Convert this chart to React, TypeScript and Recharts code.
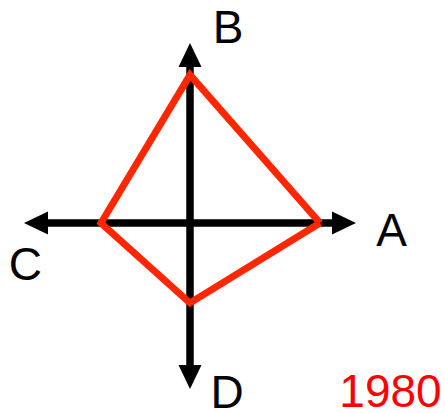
import React from 'react';
import { ComposedChart, Line, XAxis, YAxis, ReferenceLine, ReferenceDot } from 'recharts';

// radar-like values (distance from centre along each axis)
const axesNames = ['A', 'B', 'C', 'D'];
const values1980 = [130, 148, 89, 80];
const yearLabel = '1980';

// direction of each axis: A right, B up, C left, D down
const dirs: Record<string, [number, number]> = { A: [1, 0], B: [0, 1], C: [-1, 0], D: [0, -1] };

const polygon = [...axesNames, axesNames[0]].map((n, i) => {
  const v = values1980[i % axesNames.length];
  return { x: dirs[n][0] * v, y: dirs[n][1] * v };
});

const W = 445;
const H = 413;

const Arrow = (props: any) => {
  const { x1, y1, x2, y2 } = props;
  const dx = x2 - x1;
  const dy = y2 - y1;
  const len = Math.sqrt(dx * dx + dy * dy) || 1;
  const ux = dx / len;
  const uy = dy / len;
  const hl = 24;
  const hw = 11.5;
  const px = -uy;
  const py = ux;
  const head = (tx: number, ty: number, sx: number, sy: number) => {
    const bx = tx - sx * hl;
    const by = ty - sy * hl;
    return `${tx},${ty} ${bx + px * hw},${by + py * hw} ${bx - px * hw},${by - py * hw}`;
  };
  return (
    <g>
      <line
        x1={x1 + ux * (hl - 2)}
        y1={y1 + uy * (hl - 2)}
        x2={x2 - ux * (hl - 2)}
        y2={y2 - uy * (hl - 2)}
        stroke="#000"
        strokeWidth={7.5}
      />
      <polygon points={head(x2, y2, ux, uy)} fill="#000" />
      <polygon points={head(x1, y1, -ux, -uy)} fill="#000" />
    </g>
  );
};

const labelStyle = (value: string, color: string) => ({
  value,
  position: 'center' as const,
  fill: color,
  fontSize: 46,
  fontFamily: 'Liberation Sans, Arial, sans-serif',
});

export default function App() {
  return (
    <div style={{ position: 'absolute', left: 0, top: 0, width: W, height: H, background: '#fff' }}>
      <ComposedChart width={W} height={H} data={polygon} margin={{ top: 0, right: 0, bottom: 0, left: 0 }}>
        <XAxis type="number" dataKey="x" domain={[-190, 255]} hide allowDataOverflow />
        <YAxis type="number" dataKey="y" domain={[-190, 223]} hide allowDataOverflow />
        <ReferenceLine segment={[{ x: -166, y: 0 }, { x: 166, y: 0 }]} shape={Arrow} />
        <ReferenceLine segment={[{ x: 0, y: -166 }, { x: 0, y: 180 }]} shape={Arrow} />
        <Line
          type="linear"
          dataKey="y"
          stroke="#ff2600"
          strokeWidth={7}
          strokeLinejoin="miter"
          dot={false}
          activeDot={false}
          isAnimationActive={false}
        />
        <ReferenceDot x={201.7} y={-6.7} r={0} stroke="none" label={labelStyle('A', '#000')} />
        <ReferenceDot x={38} y={196.5} r={0} stroke="none" label={labelStyle('B', '#000')} />
        <ReferenceDot x={-164.7} y={-40.7} r={0} stroke="none" label={labelStyle('C', '#000')} />
        <ReferenceDot x={37} y={-168.7} r={0} stroke="none" label={labelStyle('D', '#000')} />
        <ReferenceDot x={200.5} y={-167.8} r={0} stroke="none" label={labelStyle(yearLabel, '#ff0000')} />
      </ComposedChart>
    </div>
  );
}
